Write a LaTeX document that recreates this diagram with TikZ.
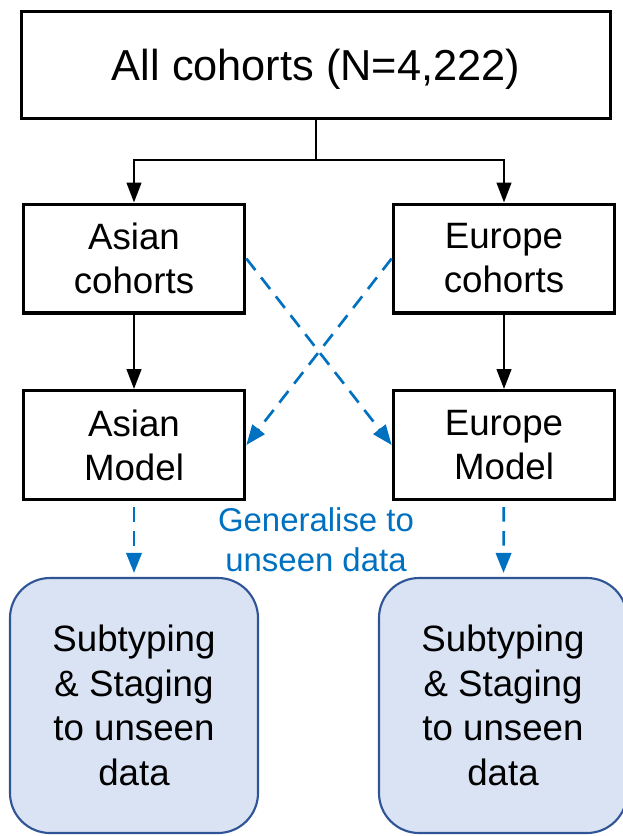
\documentclass[tikz,border=0pt]{standalone}
\usepackage{fontspec}
\setmainfont{Liberation Sans}
\usetikzlibrary{arrows.meta}
\definecolor{genblue}{RGB}{0,112,192}
\definecolor{resfill}{RGB}{218,227,243}
\definecolor{resdraw}{RGB}{47,85,151}
\tikzset{
  cohortbox/.style={draw=black, line width=2.5pt, align=center, inner sep=0pt,
    minimum width=166pt, minimum height=81.5pt,
    font=\fontsize{27.5}{33}\selectfont},
  resultbox/.style={draw=resdraw, fill=resfill, line width=1.6pt, rounded corners=30pt,
    align=center, inner sep=0pt, minimum width=186pt, minimum height=191.25pt,
    font=\fontsize{27.5}{33.4}\selectfont},
  link/.style={line width=1.8pt, -{Triangle[length=15pt,width=11pt]}},
  transfer/.style={genblue, line width=2pt, dash pattern=on 11pt off 7pt,
    -{Triangle[length=15pt,width=11.5pt]}}
}

\begin{document}
\begin{tikzpicture}[x=0.75pt, y=-0.75pt]
			%%%%% START %%%%%
			\useasboundingbox (0, 0) rectangle (623, 836);
			
			\node[cohortbox, minimum width=441.5pt, minimum height=80pt, text depth=0pt,
			      font=\fontsize{32.5}{39}\selectfont] (all) at (316, 65) {All cohorts (N=4,222)};
			
			\node[cohortbox] (asianc) at (134, 258.5) {Asian\\cohorts};
			\node[cohortbox] (europec) at (504, 258.5) {Europe\\cohorts};
			\node[cohortbox] (asianm) at (134, 445) {Asian\\Model};
			\node[cohortbox] (europem) at (504, 445) {Europe\\Model};
			
			\node[resultbox] (asianres) at (134, 705.5) {Subtyping\\\& Staging\\to unseen\\data};
			\node[resultbox] (europeres) at (503, 705.5) {Subtyping\\\& Staging\\to unseen\\data};
			
			\node[genblue, align=center, font=\fontsize{24.7}{30}\selectfont] (gen) at (316, 540) {Generalise to\\unseen data};
			
			% split from the whole set
			\draw[line width=1.8pt] (all.south) -- ++(0, 40) coordinate (split);
			\draw[link] (split) -| (asianc.north);
			\draw[link] (split) -| (europec.north);
			
			\draw[link] (asianc) -- (asianm);
			\draw[link] (europec) -- (europem);
			
			% cross transfer
			\draw[transfer] (asianc.east) -- (europem.west);
			\draw[transfer] (europec.west) -- (asianm.east);
			
			\draw[transfer, shorten <=4.5pt, shorten >=3pt] (asianm) -- (asianres);
			\draw[transfer, shorten <=4.5pt, shorten >=3pt] (europem) -- (europeres);
			
			%%%%% END %%%%%
\end{tikzpicture}
\end{document}
